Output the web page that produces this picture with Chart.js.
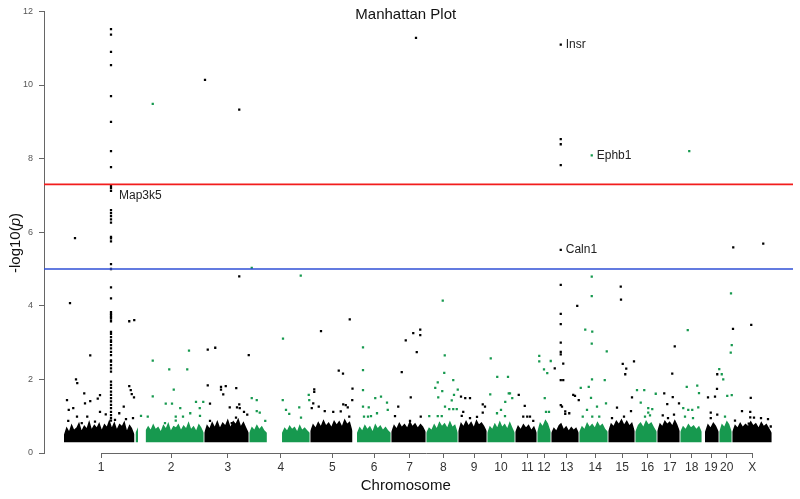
<!DOCTYPE html>
<html lang="en">
<head>
<meta charset="UTF-8">
<title>Manhattan Plot</title>
<script src="https://cdn.jsdelivr.net/npm/chart.js"></script>
<style>
    body { margin: 0; background: #fff; }
    .chart-container { position: relative; width: 800px; height: 499px; }
</style>
</head>
<body>
<div class="chart-container">
    <canvas id="manhattan"></canvas>
</div>
<script>
// chromosome labels and where their ticks sit (cumulative position, Mb)
const chrNames = ['1','2','3','4','5','6','7','8','9','10','11','12','13','14','15','16','17','18','19','20','X'];
const chrCenter = [228, 508, 735, 947, 1153, 1320, 1462, 1597, 1720, 1828, 1934, 2000, 2091, 2205, 2313, 2414, 2504, 2591, 2668, 2731, 2833];

// thresholds
const suggestiveLine = 5;
const genomeWideLine = 7.3;
const bandBase = 0.29;

// dense band of SNPs: first/last marker per chromosome and the band's top edge,
// read at even steps along the chromosome (null = no markers there)
const bandStart = [80, 366, 641, 821, 1065, 1252, 1389, 1529, 1657, 1773, 1885, 1973, 2029, 2141, 2257, 2365, 2453, 2545, 2644, 2701, 2753];
const bandEnd = [362, 639, 819, 1063, 1234, 1387, 1527, 1655, 1771, 1883, 1971, 2027, 2139, 2255, 2363, 2451, 2543, 2631, 2699, 2751, 2911];
const bandHeights = [
    [0.5,0.72,0.6,0.8,0.64,0.7,0.85,0.62,0.76,0.68,0.9,0.66,0.78,0.7,0.84,0.64,0.8,0.72,0.92,0.7,0.86,0.66,0.8,0.74,0.88,0.62,0.78,0.68,0.5],
    [0.55,0.7,null,null,0.62,0.74,0.64,0.8,0.66,0.72,0.6,0.78,0.68,0.84,0.62,0.74,0.7,0.8,0.64,0.76,0.68,0.86,0.66,0.74,0.62,0.8,0.7,0.55],
    [0.55,0.78,0.68,0.86,0.72,0.9,0.7,0.84,0.76,0.94,0.72,0.88,0.8,0.96,0.74,0.86,0.7,0.55],
    [0.55,0.72,0.64,0.78,0.66,0.74,0.62,0.55,null,null,null,null,null,0.55,0.7,0.62,0.76,0.66,0.72,0.6,0.78,0.64,0.7,0.62,0.55],
    [0.6,0.8,0.7,0.86,0.74,0.92,0.76,0.84,0.72,0.9,0.78,0.88,0.74,0.94,0.8,0.86,0.6],
    [0.55,0.72,0.62,0.78,0.66,0.74,0.6,0.8,0.68,0.76,0.64,0.72,0.62,0.55],
    [0.58,0.78,0.68,0.84,0.72,0.8,0.7,0.88,0.74,0.82,0.7,0.8,0.72,0.58],
    [0.55,0.7,0.64,0.8,0.68,0.86,0.74,0.82,0.7,0.88,0.72,0.78,0.55],
    [0.6,0.84,0.74,0.9,0.76,0.86,0.72,0.92,0.78,0.84,0.74,0.6],
    [0.55,0.74,0.66,0.82,0.7,0.88,0.72,0.8,0.68,0.86,0.7,0.55],
    [0.58,0.76,0.66,0.8,0.7,0.78,0.64,0.74,0.55],
    [0.58,0.84,0.74,0.92,0.8,0.58],
    [0.55,0.7,0.62,0.76,0.82,0.66,0.74,0.62,0.72,0.64,0.7,0.55],
    [0.58,0.74,0.66,0.84,0.72,0.8,0.7,0.86,0.74,0.8,0.66,0.58],
    [0.6,0.82,0.74,0.9,0.8,0.94,0.78,0.9,0.76,0.84,0.6],
    [0.58,0.76,0.84,0.72,0.9,0.78,0.84,0.7,0.58],
    [0.6,0.82,0.74,0.9,0.8,0.86,0.76,0.92,0.78,0.6],
    [0.58,0.74,0.66,0.8,0.7,0.76,0.66,0.74,0.58],
    [0.58,0.8,0.7,0.84,0.74,0.58],
    [0.58,0.8,0.72,0.88,0.78,0.58],
    [0.58,0.78,0.7,0.84,0.72,0.8,0.74,0.88,0.76,0.82,0.7,0.86,0.74,0.8,0.68,0.55]
];

// SNPs standing out above the band: [cumulative position, -log10(p)]
const snpHits = [
    // 1
    [[104,4.07],[124,5.84],[268,11.52],[268,11.37],[268,10.9],[268,10.54],[268,9.7],[268,9.0],[268,8.2],[268,7.77],[268,7.26],[268,7.2],[268,7.12],
     [268,6.6],[268,6.52],[268,6.44],[268,6.35],[268,6.26],[268,5.87],[268,5.83],[268,5.75],[268,5.13],[268,5.0],[268,4.5],[268,4.2],
     [268,3.83],[268,3.78],[268,3.74],[268,3.69],[268,3.65],[268,3.58],[268,3.29],[268,3.24],[268,3.15],[268,3.06],[268,3.02],[268,2.93],
     [268,2.84],[268,2.75],[268,2.66],[268,2.52],[268,2.48],[268,2.39],[268,2.3],[268,2.21],[268,1.94],[268,1.85],[268,1.77],[268,1.67],
     [268,1.58],[268,1.49],[268,1.4],[268,1.31],[268,1.22],[268,1.12],[268,1.03],[268,0.95],[268,0.88],
     [341,3.58],[361,3.61],[185,2.65],[128,2.0],[133,1.9],[92,1.44],[99,1.17],[117,1.22],[161,1.62],[164,1.35],[185,1.41],[215,1.48],[224,1.57],
     [341,1.82],[347,1.71],[351,1.6],[360,1.51],[319,1.26],[301,1.08],[132,0.99],[173,0.99],[224,1.12],[247,1.05],[97,0.87],[151,0.81],
     [204,0.85],[284,0.9],[328,0.92],[356,0.95]],
    // 2
    [[435,9.49],[435,2.51],[435,1.54],[487,1.34],[501,2.27],[388,1.01],[415,0.99],[580,2.78],[573,2.27],[519,1.72],[512,1.34],[545,1.22],
     [608,1.39],[637,1.39],[623,1.22],[527,0.99],[527,0.88],[556,0.99],[585,1.08],[624,1.01],[484,0.81]],
    // 3
    [[644,10.14],[781,9.33],[781,4.8],[655,2.81],[685,2.86],[819,2.66],[655,1.84],[708,1.8],[708,1.72],[727,1.82],[717,1.59],[769,1.76],
     [664,1.34],[743,1.24],[781,1.32],[772,1.24],[783,1.22],[800,1.12],[813,1.04],[768,0.96],[664,0.87],[751,0.81]],
    // 4
    [[831,5.03],[1027,4.82],[956,3.11],[831,1.49],[851,1.44],[851,1.14],[863,1.1],[955,1.44],[968,1.17],[981,1.06],[885,0.87],[1021,1.24],
     [1059,1.58],[1061,1.44],[1028,0.96]],
    // 5
    [[1108,3.31],[1223,3.63],[1179,2.24],[1196,2.16],[1234,1.75],[1233,1.44],[1081,1.73],[1081,1.66],[1077,1.35],[1071,1.22],[1099,1.26],
     [1123,1.14],[1157,1.12],[1187,1.13],[1197,1.32],[1207,1.3],[1215,1.24],[1221,0.99]],
    // 6
    [[1276,2.87],[1276,2.25],[1276,1.71],[1325,1.49],[1348,1.53],[1276,1.26],[1299,1.24],[1372,1.37],[1375,1.17],[1280,0.99],[1296,0.99],
     [1308,1.0],[1332,1.08]],
    // 7
    [[1488,11.28],[1447,3.06],[1477,3.26],[1505,3.35],[1505,3.2],[1491,2.74],[1431,2.2],[1417,1.26],[1467,1.51],[1464,0.87],[1507,0.99],[1404,1.0]],
    // 8
    [[1595,4.14],[1603,2.65],[1601,2.18],[1637,1.98],[1575,1.92],[1565,1.77],[1593,1.68],[1655,1.72],[1577,1.51],[1640,1.58],[1631,1.43],
     [1604,1.26],[1621,1.19],[1637,1.19],[1651,1.19],[1541,1.0],[1575,1.0],[1591,1.0]],
    // 9
    [[1668,1.53],[1685,1.49],[1704,1.49],[1755,1.32],[1764,1.26],[1755,1.1],[1677,1.12],[1671,1.01],[1704,0.95],[1732,0.98]],
    // 10
    [[1787,2.57],[1813,2.07],[1856,2.07],[1785,1.59],[1845,1.39],[1859,1.62],[1864,1.62],[1873,1.49],[1828,1.17],[1812,1.08],[1844,1.0]],
    // 11
    [[1899,1.58],[1923,1.28],[1917,0.99],[1933,0.99],[1944,0.99],[1957,0.87]],
    // 12
    [[1981,2.64],[1981,2.49],[2027,2.5],[2000,2.27],[2013,2.17],[2003,1.49],[2008,1.12],[2020,1.12]],
    // 13
    [[2067,11.1],[2067,8.53],[2067,8.39],[2067,7.82],[2067,5.52],[2067,4.57],[2067,3.78],[2067,3.5],[2067,3.0],[2067,2.75],[2067,2.68],
     [2067,1.98],[2067,1.3],[2077,2.43],[2043,2.3],[2077,1.98],[2072,1.26],[2117,1.58],[2124,1.55],[2085,1.13],[2085,1.06],[2133,4.0],
     [2139,1.44],[2101,1.08]],
    // 14
    [[2191,8.09],[2191,4.79],[2191,4.26],[2165,3.35],[2193,3.3],[2191,2.97],[2251,2.76],[2192,2.0],[2243,1.98],[2147,1.77],[2179,1.8],
     [2188,1.5],[2172,1.17],[2212,1.26],[2248,1.35],[2155,0.99],[2193,0.99],[2221,0.99]],
    // 15
    [[2307,4.52],[2308,4.17],[2315,2.42],[2329,2.29],[2325,2.14],[2360,2.49],[2292,1.23],[2352,1.51],[2348,1.14],[2320,0.99],[2272,0.95]],
    // 16
    [[2372,1.71],[2401,1.71],[2447,1.61],[2387,1.37],[2417,1.22],[2433,1.19],[2417,1.1],[2404,0.99],[2424,1.02]],
    // 17
    [[2523,2.9],[2513,2.16],[2481,1.62],[2515,1.52],[2493,1.33],[2540,1.35],[2520,1.04],[2475,1.02],[2496,0.95]],
    // 18
    [[2581,8.2],[2575,3.34],[2571,1.8],[2613,1.83],[2620,1.63],[2557,1.22],[2577,1.17],[2593,1.17],[2617,1.24],[2564,0.99],[2596,0.95]],
    // 19
    [[2656,1.51],[2684,1.53],[2692,1.74],[2693,2.14],[2667,1.1],[2667,0.95],[2693,1.04]],
    // 20
    [[2748,4.34],[2751,2.93],[2747,2.73],[2701,2.28],[2711,2.14],[2717,2.0],[2733,1.55],[2751,1.57],[2724,0.99]],
    // X
    [[2757,5.59],[2877,5.69],[2756,3.37],[2829,3.48],[2827,1.5],[2792,1.14],[2825,1.12],[2825,0.97],[2840,0.96],[2764,0.88],[2868,0.95],
     [2896,0.92],[2819,0.8],[2907,0.72]]
];

// labelled genes
const geneNames = ['Map3k5', 'Insr', 'Ephb1', 'Caln1'];
const genePos = [268, 2067, 2191, 2067];
const geneLogP = [7.0, 11.1, 8.08, 5.52];

const xMin = 0, xMax = 2996;
const colBlack = '#000000';
const colGreen = '#17994f';
const FONT = '"Liberation Sans", Arial, Helvetica, sans-serif';

const datasets = [];

// threshold lines
datasets.push({
    type: 'line', data: [{x: xMin, y: genomeWideLine}, {x: xMax, y: genomeWideLine}],
    borderColor: '#f21d1d', borderWidth: 1.6, pointRadius: 0, order: 0
});
datasets.push({
    type: 'line', data: [{x: xMin, y: suggestiveLine}, {x: xMax, y: suggestiveLine}],
    borderColor: '#2f4fd6', borderWidth: 1.6, pointRadius: 0, order: 0
});

// individual SNPs
const blackPts = [], greenPts = [];
snpHits.forEach((list, i) => {
    list.forEach(p => (i % 2 ? greenPts : blackPts).push({x: p[0], y: p[1]}));
});
[[blackPts, colBlack], [greenPts, colGreen]].forEach(([pts, col]) => {
    datasets.push({
        type: 'scatter', data: pts, backgroundColor: col, borderWidth: 0,
        pointStyle: 'rect', pointRadius: 1.6, order: 1
    });
});

// dense band per chromosome
bandHeights.forEach((hs, i) => {
    const step = (bandEnd[i] - bandStart[i]) / (hs.length - 1);
    datasets.push({
        type: 'line',
        data: hs.map((h, k) => ({x: bandStart[i] + k * step, y: h})),
        borderWidth: 0, pointRadius: 0, spanGaps: false,
        backgroundColor: i % 2 ? colGreen : colBlack,
        fill: {value: bandBase}, order: 2
    });
});

const decorations = {
    id: 'decorations',
    afterDraw(chart) {
        const ctx = chart.ctx;
        const xs = chart.scales.x, ys = chart.scales.y;
        const area = chart.chartArea;
        ctx.save();

        // x axis line from first to last chromosome tick
        ctx.strokeStyle = '#666';
        ctx.lineWidth = 1;
        ctx.beginPath();
        ctx.moveTo(xs.getPixelForValue(chrCenter[0]), area.bottom + 0.5);
        ctx.lineTo(xs.getPixelForValue(chrCenter[chrCenter.length - 1]), area.bottom + 0.5);
        ctx.stroke();

        // title
        ctx.fillStyle = '#111';
        ctx.font = '15px ' + FONT;
        ctx.textAlign = 'center';
        ctx.textBaseline = 'middle';
        ctx.fillText('Manhattan Plot', area.left + (area.right - area.left) * 0.483, 15);

        // x axis title
        ctx.fillText('Chromosome', area.left + (area.right - area.left) * 0.483, 486);

        // y axis title with italic p
        ctx.translate(16, 243);
        ctx.rotate(-Math.PI / 2);
        const a = '-log10(', b = 'p', c = ')';
        ctx.font = '15px ' + FONT;
        const wa = ctx.measureText(a).width, wc = ctx.measureText(c).width;
        ctx.font = 'italic 15px ' + FONT;
        const wb = ctx.measureText(b).width;
        let x0 = -(wa + wb + wc) / 2;
        ctx.textAlign = 'left';
        ctx.font = '15px ' + FONT;
        ctx.fillText(a, x0, 0);
        ctx.font = 'italic 15px ' + FONT;
        ctx.fillText(b, x0 + wa, 0);
        ctx.font = '15px ' + FONT;
        ctx.fillText(c, x0 + wa + wb, 0);
        ctx.setTransform(1, 0, 0, 1, 0, 0);

        // gene labels
        ctx.font = '12px ' + FONT;
        ctx.fillStyle = '#222';
        ctx.textAlign = 'left';
        ctx.textBaseline = 'middle';
        geneNames.forEach((g, i) => {
            const off = i === 0 ? 8 : 5;
            ctx.fillText(g, xs.getPixelForValue(genePos[i]) + off, ys.getPixelForValue(geneLogP[i]));
        });
        ctx.restore();
    }
};

new Chart(document.getElementById('manhattan'), {
    type: 'scatter',
    data: {datasets: datasets},
    plugins: [decorations],
    options: {
        responsive: true,
        maintainAspectRatio: false,
        animation: false,
        layout: {padding: {top: 9, right: 7, left: 0, bottom: 0}},
        plugins: {legend: {display: false}, tooltip: {enabled: false}},
        scales: {
            x: {
                type: 'linear', min: xMin, max: xMax,
                afterBuildTicks: s => { s.ticks = chrCenter.map(v => ({value: v})); },
                afterFit: s => { s.height = 46; },
                ticks: {
                    autoSkip: false, maxRotation: 0, padding: 2,
                    color: '#333', font: {size: 12, family: FONT},
                    callback: (v, i) => chrNames[i]
                },
                grid: {drawOnChartArea: false, tickLength: 5, color: '#666'},
                border: {display: false}
            },
            y: {
                min: 0, max: 12,
                afterFit: s => { s.width = 44; },
                ticks: {stepSize: 2, padding: 6, color: '#555', font: {size: 9, family: FONT}},
                grid: {drawOnChartArea: false, tickLength: 5, color: '#666'},
                border: {display: true, color: '#666', width: 1}
            }
        }
    }
});
</script>
</body>
</html>
